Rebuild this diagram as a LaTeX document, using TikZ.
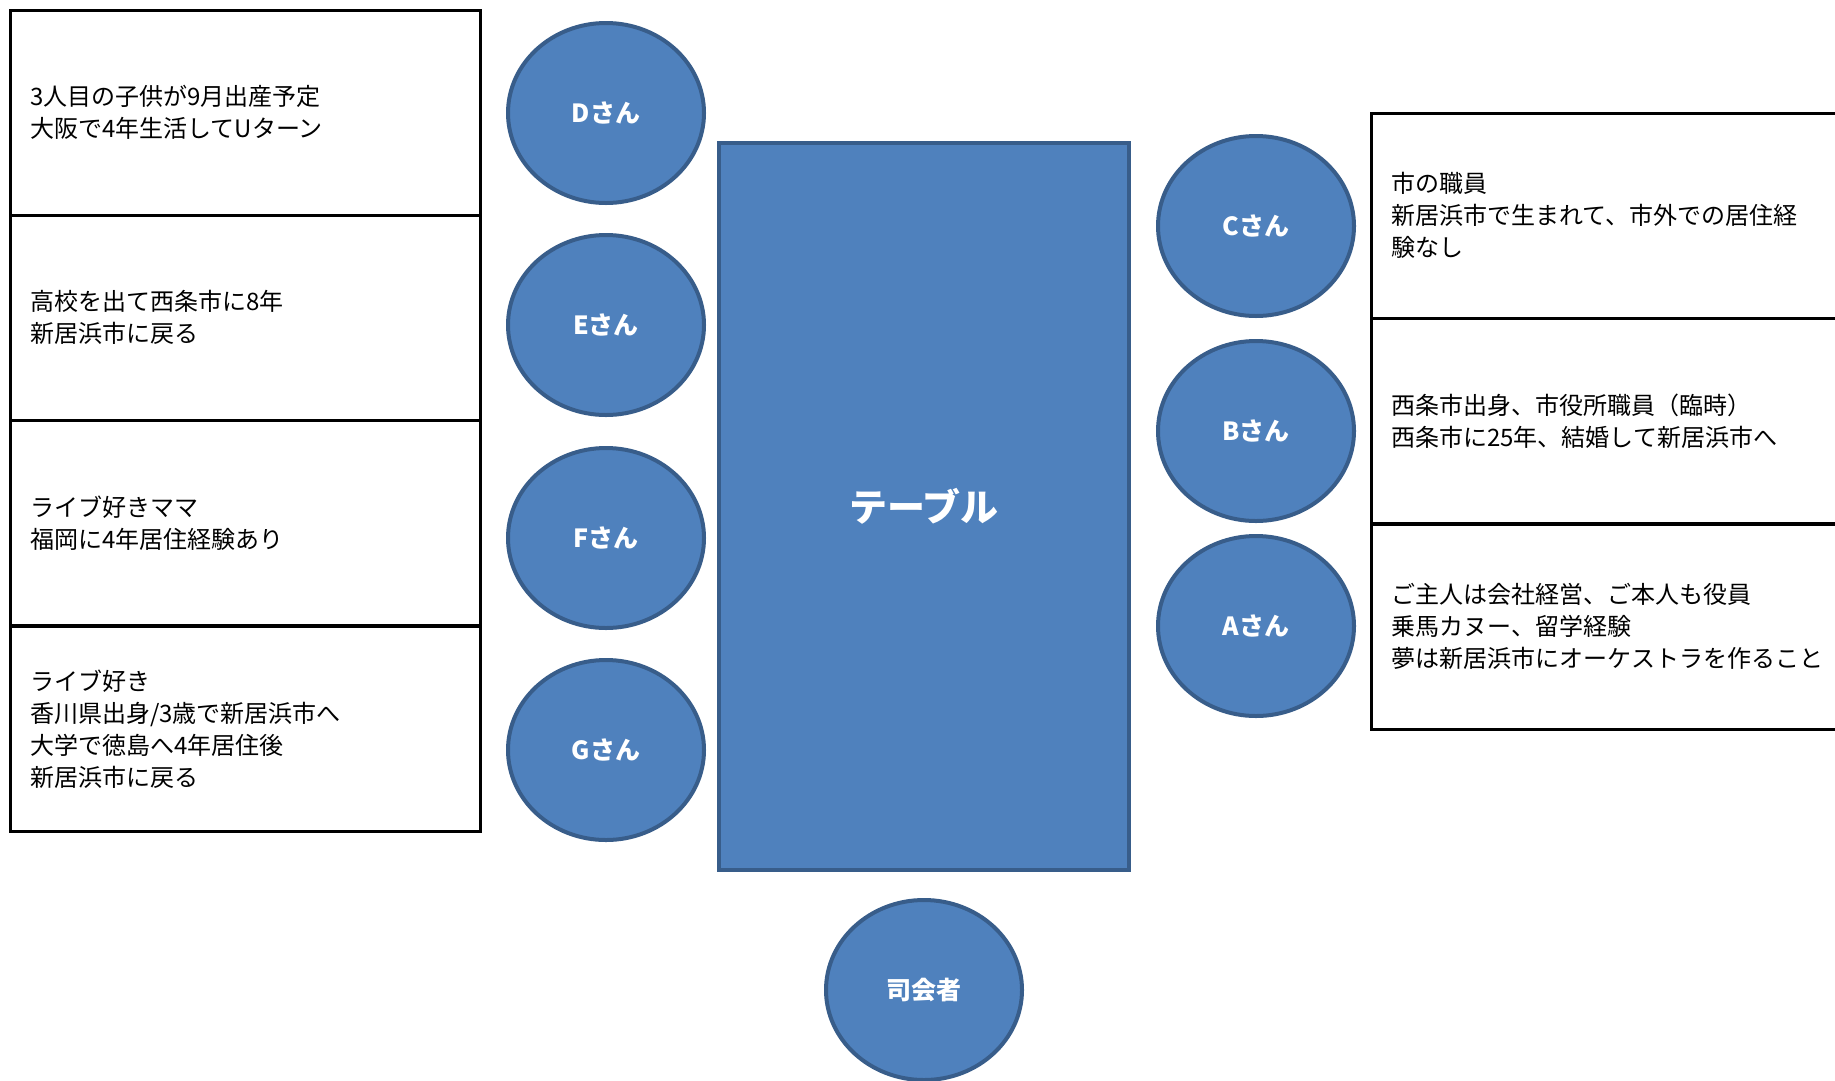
\documentclass[tikz,border=0pt]{standalone}
\usepackage{fontspec}
\newfontfamily\jp{Noto Sans CJK JP}
\usetikzlibrary{shapes.geometric}
\definecolor{seatfill}{HTML}{4F81BD}
\definecolor{seatline}{HTML}{385D8A}
\begin{document}
\begin{tikzpicture}[x=1pt,y=-1pt,
  seat/.style={ellipse, draw=seatline, fill=seatfill, line width=4pt, minimum width=196pt, minimum height=180pt, inner sep=0pt, text=white, font=\jp\bfseries\fontsize{25pt}{30pt}\selectfont},
  infobox/.style={rectangle, draw=black, line width=2.5pt, text width=430pt, inner xsep=20pt, inner ysep=0pt, minimum height=205pt, align=left, anchor=north west, font=\jp\fontsize{24pt}{32pt}\selectfont},
  tablebox/.style={rectangle, draw=seatline, fill=seatfill, line width=4pt, minimum width=410pt, minimum height=727pt, inner sep=0pt, text=white, font=\jp\bfseries\fontsize{38pt}{44pt}\selectfont}
]
\useasboundingbox (0,0) rectangle (1835,1080);
\fill[white] (0,0) rectangle (1835,1080);

% left info boxes
\node[infobox] (dinfo) at (9,9) {3人目の子供が9月出産予定\\大阪で4年生活してUターン};
\node[infobox] (einfo) at (9,214) {高校を出て西条市に8年\\新居浜市に戻る};
\node[infobox] (finfo) at (9,419) {ライブ好きママ\\福岡に4年居住経験あり};
\node[infobox] (ginfo) at (9,625) {ライブ好き\\香川県出身/3歳で新居浜市へ\\大学で徳島へ4年居住後\\新居浜市に戻る};

% right info boxes
\node[infobox, text width=440pt] (cinfo) at (1370,112) {市の職員\\新居浜市で生まれて、市外での居住経\\験なし};
\node[infobox, text width=440pt] (binfo) at (1370,317) {西条市出身、市役所職員（臨時）\\西条市に25年、結婚して新居浜市へ};
\node[infobox, text width=440pt] (ainfo) at (1370,523) {ご主人は会社経営、ご本人も役員\\乗馬カヌー、留学経験\\夢は新居浜市にオーケストラを作ること};

% table
\node[tablebox] (table) at (924,506.5) {テーブル};

% seats
\node[seat] (D) at (606,113) {Dさん};
\node[seat] (E) at (606,325) {Eさん};
\node[seat] (F) at (606,538) {Fさん};
\node[seat] (G) at (606,750) {Gさん};
\node[seat] (C) at (1256,226) {Cさん};
\node[seat] (B) at (1256,431) {Bさん};
\node[seat] (A) at (1256,626) {Aさん};
\node[seat] (host) at (924,990) {司会者};
\end{tikzpicture}
\end{document}
